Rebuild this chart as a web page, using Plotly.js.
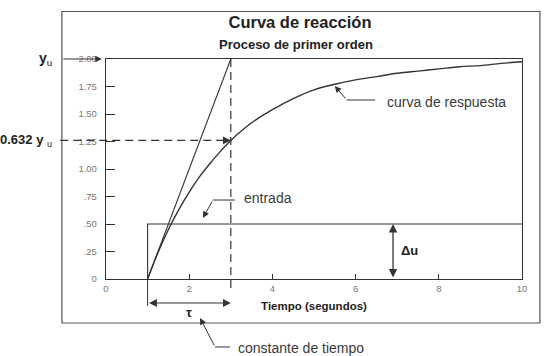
<!DOCTYPE html>
<html>
<head>
<meta charset="utf-8">
<script src="https://cdn.plot.ly/plotly-3.0.1.min.js"></script>
<style>html,body{margin:0;padding:0;background:#fff}#chart{width:547px;height:356px}</style>
</head>
<body>
<div id="chart"></div>
<script>
// ---- data ----
var respT = [1.0, 1.25, 1.5, 1.75, 2.0, 2.25, 2.5, 2.75, 3.0, 3.5, 4.0, 4.5, 5.0, 5.5, 6.0, 6.5, 7.0, 7.5, 8.0, 8.5, 9.0, 9.5, 10.0];
var respY = [0, 0.24, 0.45, 0.63, 0.79, 0.93, 1.05, 1.16, 1.26, 1.42, 1.54, 1.64, 1.72, 1.77, 1.81, 1.84, 1.87, 1.89, 1.91, 1.93, 1.94, 1.96, 1.975];
var stepT = [1, 1, 10];
var stepU = [0, 0.5, 0.5];
var tangentT = [1, 3];
var tangentY = [0, 2];
var yu = 2.0;          // final value
var y632 = 1.26;       // 0.632 yu
var t0 = 1;            // step time
var tTau = 3;          // t0 + tau
var duX = 6.9;         // position of the delta-u arrow
var xTickVals = [0, 2, 4, 6, 8, 10];
var xTickText = ['0', '2', '4', '6', '8', '10'];
var yTickVals = [0, 0.25, 0.5, 0.75, 1.0, 1.25, 1.5, 1.75, 2.0];
var yTickText = ['0', '.25', '.50', '.75', '1.00', '1.25', '1.50', '1.75', '2.00'];
var xRange = [0, 10];
var yRange = [0, 2];

var LC = '#333';
var FONT = 'Liberation Sans, Arial, Helvetica, sans-serif';
function px(x) { return (x - xRange[0]) / (xRange[1] - xRange[0]); }
function py(y) { return (y - yRange[0]) / (yRange[1] - yRange[0]); }

var traces = [
  {x: stepT, y: stepU, mode: 'lines', line: {color: LC, width: 1.1}, showlegend: false, hoverinfo: 'skip'},
  {x: tangentT, y: tangentY, mode: 'lines', line: {color: LC, width: 1.1}, showlegend: false, hoverinfo: 'skip'},
  {x: respT, y: respY, mode: 'lines', line: {color: LC, width: 1.4, shape: 'spline'}, showlegend: false, hoverinfo: 'skip'}
];

var shapes = [
  // outer frame
  {type: 'rect', xref: 'paper', yref: 'paper', x0: -0.106, x1: 1.043, y0: -0.2, y1: 1.216, line: {color: '#555', width: 1.2}},
  // dashed horizontal at 0.632 yu
  {type: 'line', xref: 'paper', yref: 'paper', x0: -0.11, x1: px(tTau), y0: py(y632), y1: py(y632), line: {color: LC, width: 1.2, dash: '8px,5px'}},
  // dashed vertical at t0+tau
  {type: 'line', xref: 'paper', yref: 'paper', x0: px(tTau), x1: px(tTau), y0: py(yu), y1: -0.06, line: {color: LC, width: 1.2, dash: '8px,5px'}},
  // extension line at t0
  {type: 'line', xref: 'paper', yref: 'paper', x0: px(t0), x1: px(t0), y0: 0, y1: -0.123, line: {color: LC, width: 1}},
  // leader horizontals
  {type: 'line', xref: 'x', yref: 'y', x0: 2.57, x1: 3.1, y0: 0.718, y1: 0.718, line: {color: LC, width: 1}},
  {type: 'line', xref: 'x', yref: 'y', x0: 5.79, x1: 6.47, y0: 1.627, y1: 1.627, line: {color: LC, width: 1}},
  {type: 'line', xref: 'paper', yref: 'paper', x0: 0.262, x1: 0.298, y0: -0.309, y1: -0.309, line: {color: LC, width: 1}}
];

var lab = {family: FONT, size: 14, color: '#3a3a3a'};
var arrowBase = {text: '', showarrow: true, arrowhead: 2, arrowsize: 1.3, arrowwidth: 1, arrowcolor: LC};
function arr(o) { return Object.assign({}, arrowBase, o); }

var annotations = [
  {xref: 'paper', yref: 'paper', x: (296 - 106) / 416, y: (279 - 45) / 220, xanchor: 'center', yanchor: 'middle', text: '<b>Proceso de primer orden</b>', showarrow: false, font: {family: FONT, size: 13, color: '#222'}},
  // y_u label and arrow
  {xref: 'paper', yref: 'y', x: -0.125, y: yu, xanchor: 'right', yanchor: 'middle', text: '<b>y</b><sub>u</sub>', showarrow: false, font: {family: FONT, size: 14, color: '#222'}},
  arr({xref: 'paper', yref: 'y', x: -0.01, y: yu, ax: -40, ay: 0}),
  // 0.632 y_u label and arrowhead
  {xref: 'paper', yref: 'y', x: -0.125, y: y632, xanchor: 'right', yanchor: 'middle', text: '<b>0.632 y</b> <sub>u</sub>', showarrow: false, font: {family: FONT, size: 13, color: '#222'}},
  arr({xref: 'x', yref: 'y', x: tTau, y: y632, ax: -10, ay: 0, arrowwidth: 1.2}),
  // entrada
  arr({xref: 'x', yref: 'y', x: 2.33, y: 0.555, axref: 'x', ayref: 'y', ax: 2.57, ay: 0.718}),
  {xref: 'x', yref: 'y', x: 3.28, y: 0.735, xanchor: 'left', yanchor: 'middle', text: 'entrada', showarrow: false, font: lab},
  // curva de respuesta
  arr({xref: 'x', yref: 'y', x: 5.5, y: 1.755, axref: 'x', ayref: 'y', ax: 5.79, ay: 1.627}),
  {xref: 'x', yref: 'y', x: 6.7, y: 1.61, xanchor: 'left', yanchor: 'middle', text: 'curva de respuesta', showarrow: false, font: lab},
  // delta u
  arr({xref: 'x', yref: 'y', x: duX, y: 0.5, axref: 'x', ayref: 'y', ax: duX, ay: 0, arrowside: 'end+start', arrowwidth: 1.3}),
  {xref: 'x', yref: 'y', x: duX + 0.15, y: 0.255, xanchor: 'left', yanchor: 'middle', text: '<b>\u0394u</b>', showarrow: false, font: {family: FONT, size: 13, color: '#222'}},
  // tau dimension
  arr({xref: 'x', yref: 'paper', x: tTau, y: -0.109, axref: 'x', ayref: 'pixel', ax: t0, ay: 0, arrowside: 'end+start', arrowwidth: 1.2}),
  {xref: 'paper', yref: 'paper', x: (189 - 106) / 416, y: -0.152, xanchor: 'center', yanchor: 'middle', text: '<b>\u03c4</b>', showarrow: false, font: {family: FONT, size: 13, color: '#222'}},
  // constante de tiempo
  arr({xref: 'paper', yref: 'paper', x: 0.226, y: -0.177, axref: 'pixel', ayref: 'pixel', ax: 15, ay: 29}),
  {xref: 'paper', yref: 'paper', x: 0.312, y: -0.314, xanchor: 'left', yanchor: 'middle', text: 'constante de tiempo', showarrow: false, font: lab}
];

var layout = {
  width: 547, height: 356,
  margin: {l: 106, r: 25, t: 59, b: 77, pad: 0},
  paper_bgcolor: '#fff', plot_bgcolor: '#fff',
  title: {text: '<b>Curva de reacción</b>', font: {family: FONT, size: 16.5, color: '#222'}, xref: 'paper', x: (300 - 106) / 416, xanchor: 'center', yref: 'container', y: 1 - 22 / 356, yanchor: 'middle'},
  xaxis: {
    range: xRange, tickvals: xTickVals, ticktext: xTickText, ticks: 'inside', ticklen: 5, tickcolor: LC,
    showline: true, mirror: true, linecolor: LC, linewidth: 1.2, showgrid: false, zeroline: false,
    tickfont: {family: FONT, size: 9.5, color: '#777'},
    title: {text: '<b>Tiempo (segundos)</b>', font: {family: FONT, size: 11.5, color: '#222'}, standoff: 9},
    fixedrange: true
  },
  yaxis: {
    range: yRange, tickvals: yTickVals, ticktext: yTickText, ticks: 'inside', ticklen: 9, tickcolor: LC,
    showline: true, mirror: true, linecolor: LC, linewidth: 1.2, showgrid: false, zeroline: false,
    tickfont: {family: FONT, size: 9.5, color: '#777'}, ticklabelstandoff: 6,
    fixedrange: true
  },
  shapes: shapes,
  annotations: annotations
};

Plotly.newPlot('chart', traces, layout, {displayModeBar: false, staticPlot: true});
</script>
</body>
</html>
